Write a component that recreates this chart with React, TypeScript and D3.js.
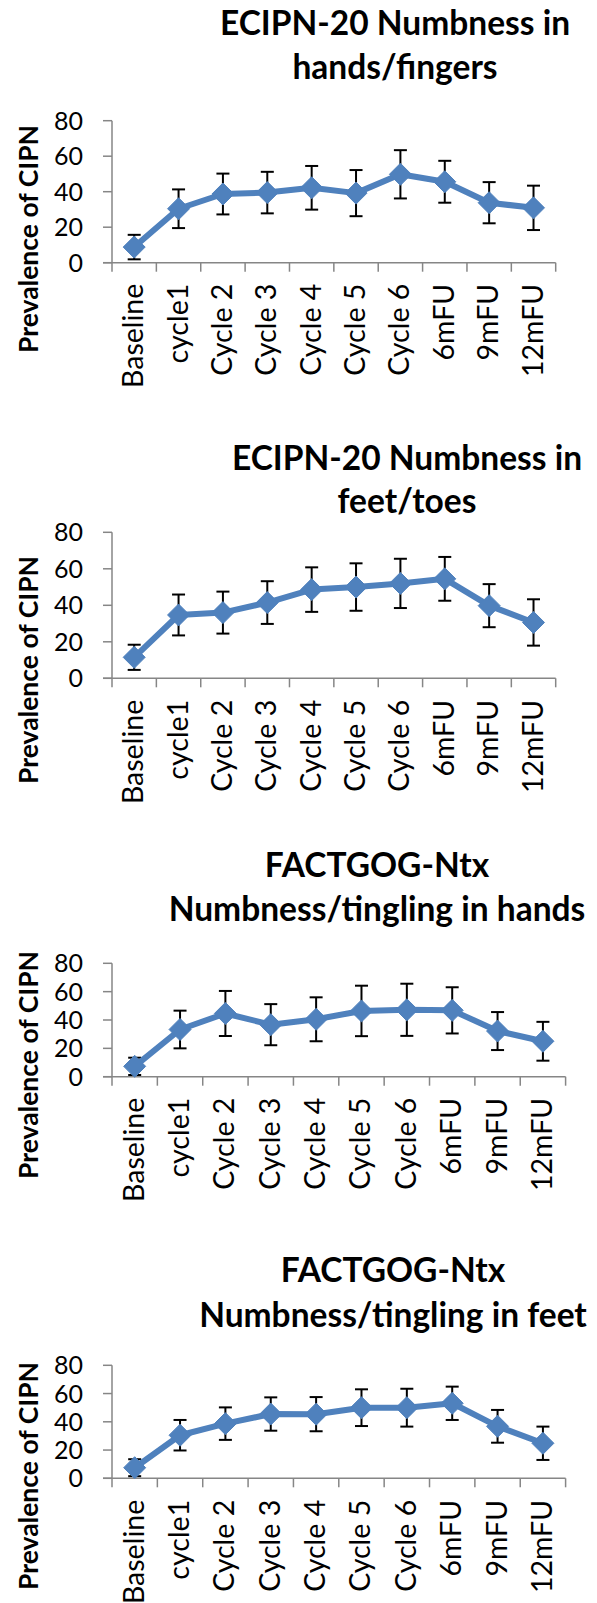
import React from "react";
import * as d3 from "d3";

const categories = ["Baseline", "cycle1", "Cycle 2", "Cycle 3", "Cycle 4", "Cycle 5", "Cycle 6", "6mFU", "9mFU", "12mFU"];
const yTicks = [0, 20, 40, 60, 80];
const yAxisTitle = "Prevalence of CIPN";

const titles1 = ["ECIPN-20 Numbness in", "hands/fingers"];
const values1 = [8.8, 30.4, 38.7, 39.5, 42.2, 39.2, 49.8, 45.6, 33.8, 30.9];
const errors1 = [6.9, 10.9, 11.5, 11.7, 12.3, 13, 13.6, 11.8, 11.6, 12.5];

const titles2 = ["ECIPN-20 Numbness in", "feet/toes"];
const values2 = [11.5, 34.7, 36, 41.5, 48.6, 50, 52, 54.5, 39.8, 30.6];
const errors2 = [6.9, 11.2, 11.5, 11.7, 12.2, 13, 13.5, 12, 11.8, 12.7];

const titles3 = ["FACTGOG-Ntx", "Numbness/tingling in hands"];
const values3 = [7.3, 33.3, 44.6, 36.7, 40.5, 46.4, 47.2, 46.8, 32.2, 25];
const errors3 = [6.1, 13.3, 15.9, 14.5, 15.5, 17.8, 18.4, 16.3, 13.4, 13.7];

const titles4 = ["FACTGOG-Ntx", "Numbness/tingling in feet"];
const values4 = [7.5, 30.5, 38.7, 45.5, 45.4, 50, 50, 53.1, 36.8, 24.8];
const errors4 = [6, 10.8, 11.5, 11.8, 12.1, 13, 13.4, 11.8, 11.6, 11.8];

const layouts = [
  { titleX: 395, t1: 35, t2: 78.5, top: 120.7, bottom: 262.7, left: 112, right: 555.7, ytc: 239, lab: 21 },
  { titleX: 407, t1: 470, t2: 513.3, top: 532.3, bottom: 678.3, left: 112, right: 555.7, ytc: 670, lab: 21.5 },
  { titleX: 377, t1: 877.3, t2: 920.7, top: 963.3, bottom: 1076.7, left: 112, right: 565.6, ytc: 1065, lab: 21 },
  { titleX: 393, t1: 1281.7, t2: 1326.7, top: 1365.3, bottom: 1478.3, left: 112, right: 565.6, ytc: 1476, lab: 21.5 },
];

const panels = [
  { titles: titles1, values: values1, errors: errors1 },
  { titles: titles2, values: values2, errors: errors2 },
  { titles: titles3, values: values3, errors: errors3 },
  { titles: titles4, values: values4, errors: errors4 },
];

const FONT = "Lato, 'Open Sans', sans-serif";
const BLUE = "#4F81BD";
const AXIS = "#868686";

function Panel({ p, L }: any) {
  const x = d3.scaleBand<string>().domain(categories).range([L.left, L.right]).padding(0);
  const y = d3.scaleLinear().domain([0, 80]).range([L.bottom, L.top]);
  const cx = (c: string) => (x(c) as number) + x.bandwidth() / 2;
  const pts: [number, number][] = categories.map((c, i) => [cx(c), y(p.values[i])]);
  const line = d3.line()(pts) as string;
  const boundaries = categories.map((c) => x(c) as number).concat([L.right]);
  const dsz = 11;
  return (
    <g>
      {p.titles.map((t: string, i: number) => (
        <text key={i} x={L.titleX} y={i === 0 ? L.t1 : L.t2} textAnchor="middle" fontFamily={FONT} fontWeight="bold" fontSize={33.5} fill="#000">
          {t}
        </text>
      ))}
      <text transform={`translate(38,${L.ytc}) rotate(-90)`} textAnchor="middle" fontFamily={FONT} fontWeight="bold" fontSize={26.5} fill="#000">
        {yAxisTitle}
      </text>
      {/* y axis */}
      <line x1={L.left} x2={L.left} y1={L.top} y2={L.bottom} stroke={AXIS} strokeWidth={1.5} />
      {yTicks.map((t) => (
        <g key={t}>
          <line x1={L.left - 9} x2={L.left} y1={y(t)} y2={y(t)} stroke={AXIS} strokeWidth={1.5} />
          <text x={83} y={y(t)} dy="0.36em" textAnchor="end" fontFamily={FONT} fontSize={25} fill="#000">
            {t}
          </text>
        </g>
      ))}
      {/* x axis */}
      <line x1={L.left - 9} x2={L.right} y1={L.bottom} y2={L.bottom} stroke={AXIS} strokeWidth={1.5} />
      {boundaries.map((b, i) => (
        <line key={i} x1={b} x2={b} y1={L.bottom} y2={L.bottom + 9} stroke={AXIS} strokeWidth={1.5} />
      ))}
      {categories.map((c) => (
        <text key={c} transform={`translate(${cx(c) + 9},${L.bottom + L.lab}) rotate(-90)`} textAnchor="end" fontFamily={FONT} fontSize={28.5} fill="#000">
          {c}
        </text>
      ))}
      {/* error bars */}
      {categories.map((c, i) => {
        const v = p.values[i];
        const e = p.errors[i];
        const xc = cx(c);
        return (
          <g key={c} stroke="#000" strokeWidth={2}>
            <line x1={xc} x2={xc} y1={y(v + e)} y2={y(Math.max(0, v - e))} />
            <line x1={xc - 6.5} x2={xc + 6.5} y1={y(v + e)} y2={y(v + e)} />
            <line x1={xc - 6.5} x2={xc + 6.5} y1={y(Math.max(0, v - e))} y2={y(Math.max(0, v - e))} />
          </g>
        );
      })}
      <path d={line} fill="none" stroke={BLUE} strokeWidth={6} strokeLinejoin="round" />
      {pts.map(([px, py], i) => (
        <path key={i} d={`M${px},${py - dsz}L${px + dsz},${py}L${px},${py + dsz}L${px - dsz},${py}Z`} fill={BLUE} stroke={BLUE} strokeWidth={1} />
      ))}
    </g>
  );
}

export default function App() {
  return (
    <svg width={597} height={1603} style={{ position: "absolute", left: 0, top: 0, background: "#fff" }}>
      <rect width={597} height={1603} fill="#fff" />
      {panels.map((p, i) => (
        <Panel key={i} p={p} L={layouts[i]} />
      ))}
    </svg>
  );
}
